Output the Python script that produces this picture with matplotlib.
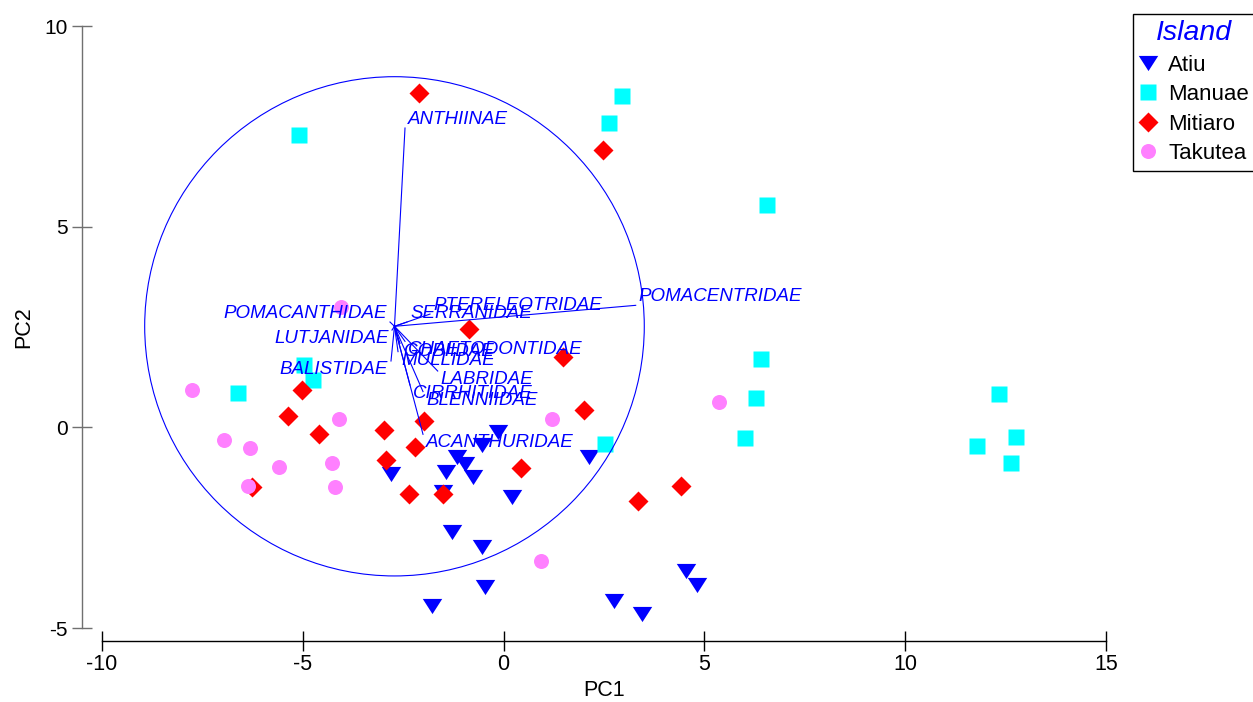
import matplotlib
matplotlib.use("Agg")
import matplotlib.pyplot as plt
import matplotlib.transforms as mtransforms
from matplotlib.patches import Circle

plt.rcParams["font.family"] = ["Liberation Sans", "DejaVu Sans"]

# sample scores (PC1, PC2) per island
atiu_x = [-2.80, -1.43, -1.15, -0.96, -0.75, -0.53, -0.13, -1.52, 0.20, 2.12,
          -1.29, -0.54, -0.46, -1.78, 2.74, 3.45, 4.53, 4.82]
atiu_y = [-1.16, -1.11, -0.75, -0.91, -1.23, -0.44, -0.12, -1.61, -1.73, -0.73,
          -2.61, -2.98, -3.97, -4.44, -4.33, -4.64, -3.57, -3.93]

manuae_x = [-6.61, -4.98, -4.75, -5.10, 2.95, 2.62, 6.56, 6.41, 6.29, 6.02,
            2.53, 12.34, 12.76, 11.79, 12.64]
manuae_y = [0.86, 1.55, 1.18, 7.28, 8.26, 7.58, 5.54, 1.70, 0.73, -0.27,
            -0.42, 0.83, -0.24, -0.47, -0.89]

mitiaro_x = [-5.02, -5.38, -4.59, -2.99, -1.98, -2.21, -2.93, -6.27, -2.35, -1.50,
             -2.11, 2.48, -0.87, 1.48, 2.00, 0.43, 3.35, 4.42]
mitiaro_y = [0.93, 0.28, -0.17, -0.07, 0.16, -0.50, -0.82, -1.48, -1.66, -1.65,
             8.34, 6.91, 2.46, 1.76, 0.42, -1.01, -1.83, -1.46]

takutea_x = [-7.77, -4.10, -6.95, -6.31, -5.59, -4.27, -6.36, -4.21, -4.06, 1.21,
             5.36, 0.94]
takutea_y = [0.93, 0.22, -0.32, -0.52, -0.98, -0.90, -1.46, -1.48, 3.01, 0.20,
             0.62, -3.33]

# family vectors (Pearson correlation overlay), tips in PC units
vec_names = ["ANTHIINAE", "POMACENTRIDAE", "PTERELEOTRIDAE", "SERRANIDAE",
             "POMACANTHIDAE", "LUTJANIDAE", "BALISTIDAE", "CHAETODONTIDAE",
             "GOBIIDAE", "MULLIDAE", "LABRIDAE", "CIRRHITIDAE", "BLENNIIDAE",
             "ACANTHURIDAE"]
vec_x = [-2.455, 3.289, -1.833, -2.405, -2.829, -2.779, -2.804, -2.455,
         -2.580, -2.629, -1.641, -2.331, -2.007, -2.007]
vec_y = [7.458, 3.040, 2.822, 2.624, 2.624, 2.424, 1.653, 2.142,
         2.093, 1.886, 1.403, 1.054, 0.890, -0.174]
circle_centre = (-2.717, 2.517)
circle_radius = 6.22

BLUE = "#0000FF"
tri_down = [(-1, 0.78), (1, 0.78), (0, -0.78)]

fig = plt.figure(figsize=(12.53, 7.02), dpi=100)
ax = fig.add_axes([102 / 1253, 74 / 702, 1004 / 1253, 602 / 702])
ax.set_xlim(-10, 15)
ax.set_ylim(-5, 10)

h_atiu, = ax.plot(atiu_x, atiu_y, ls="none", marker=tri_down, ms=14, color=BLUE,
                  mec="none", zorder=3, clip_on=False)
h_man, = ax.plot(manuae_x, manuae_y, ls="none", marker="s", ms=11.5, color="#00FFFF",
                 mec="none", zorder=3, clip_on=False)
h_mit, = ax.plot(mitiaro_x, mitiaro_y, ls="none", marker="D", ms=9.7, color="#FF0000",
                 mec="none", zorder=3, clip_on=False)
h_tak, = ax.plot(takutea_x, takutea_y, ls="none", marker="o", ms=10.8, color="#FF80FF",
                 mec="none", zorder=4, clip_on=False)

ax.add_patch(Circle(circle_centre, circle_radius, fill=False, ec=BLUE, lw=0.8, zorder=5))
cx, cy = circle_centre
for name, x, y in zip(vec_names, vec_x, vec_y):
    ax.plot([cx, x], [cy, y], color=BLUE, lw=0.8, zorder=5)
    right = x >= cx
    off = mtransforms.offset_copy(ax.transData, fig=fig, x=3 if right else -3, y=0,
                                  units="dots")
    ax.text(x, y, name, transform=off, ha="left" if right else "right",
            va="bottom" if y >= cy else "top", fontsize=13.5, style="italic",
            color=BLUE, zorder=6)

# detached axes
for s in ("top", "right"):
    ax.spines[s].set_visible(False)
ax.spines["left"].set_position(("outward", 14.4))
ax.spines["bottom"].set_position(("outward", 9.4))
ax.spines["left"].set_color("#707070")
ax.spines["left"].set_linewidth(1.0)
ax.spines["bottom"].set_linewidth(1.0)
ax.set_xticks([-10, -5, 0, 5, 10, 15])
ax.set_yticks([-5, 0, 5, 10])
ax.set_xticklabels(["-10", "-5", "0", "5", "10", "15"])
ax.set_yticklabels(["-5", "0", "5", "10"])
ax.tick_params(axis="x", direction="inout", length=14, width=1.0, labelsize=15.5, pad=2)
ax.tick_params(axis="y", direction="inout", length=14.4, width=1.0, labelsize=15,
               pad=3, color="#707070")
ax.set_xlabel("PC1", fontsize=15.5, labelpad=4)
ax.set_ylabel("PC2", fontsize=15.5, labelpad=7)

leg = fig.legend([h_atiu, h_man, h_mit, h_tak], ["Atiu", "Manuae", "Mitiaro", "Takutea"],
                 loc="upper left", bbox_to_anchor=(1132.7 / 1253, 1 - 13.7 / 702),
                 bbox_transform=fig.transFigure, frameon=True, fancybox=False,
                 edgecolor="black", framealpha=1, borderaxespad=0, prop={"size": 16},
                 title="Island", title_fontproperties={"size": 20.5, "style": "italic"},
                 borderpad=0.3, handlelength=0.78, handletextpad=0.52, labelspacing=0.38,
                 numpoints=1)
leg.get_title().set_color(BLUE)
leg.get_frame().set_linewidth(1.0)

fig.savefig("out.png", dpi=100, facecolor="white")
